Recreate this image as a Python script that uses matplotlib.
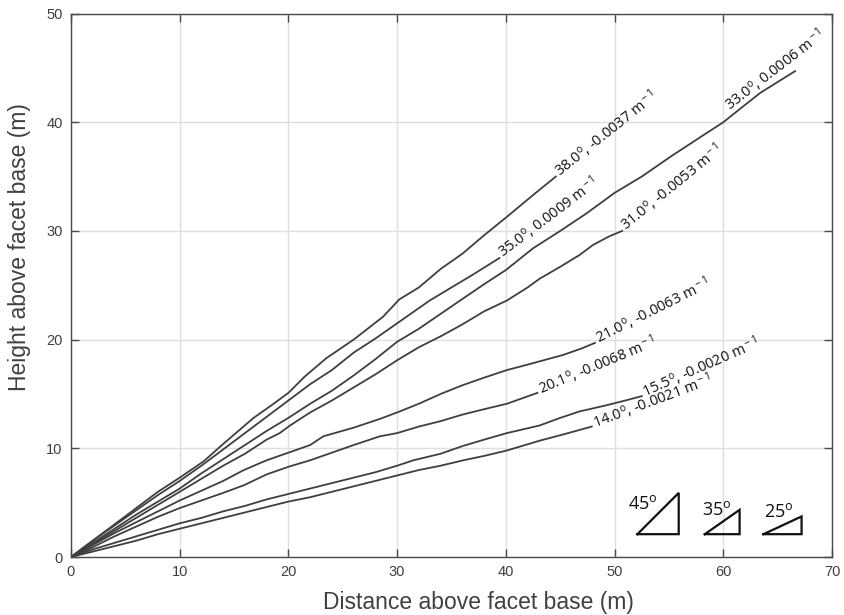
import numpy as np
import matplotlib
matplotlib.use("Agg")
from matplotlib import pyplot as plt

# profile data (distance above facet base, height above facet base)
x_38 = [0, 2, 4, 6, 8, 10, 12.2, 14, 16.8, 18.5, 20, 21.5, 23.5, 26, 28.7, 30.2, 32, 34, 36, 38, 40.1, 42.5, 44.6]
y_38 = [0, 1.5, 3.0, 4.5, 6.0, 7.3, 8.8, 10.4, 12.8, 14.0, 15.1, 16.6, 18.3, 20.0, 22.1, 23.7, 24.8, 26.5, 27.9, 29.6, 31.3, 33.3, 35.0]

x_35 = [0, 2, 4, 6, 8, 10, 12, 14, 16, 18, 20, 22, 24, 26, 28, 30, 33, 35, 37, 39.4]
y_35 = [0, 1.5, 2.9, 4.3, 5.7, 7.0, 8.4, 9.9, 11.4, 12.9, 14.4, 15.9, 17.2, 18.8, 20.1, 21.5, 23.6, 24.8, 26.0, 27.5]

x_33 = [0, 2, 4, 6, 8, 10, 12, 14, 16, 18, 20, 22, 24, 26, 28, 30, 32, 35.8, 38, 40, 42.5, 45,
        47.4, 50, 52.5, 55.1, 58, 60, 61.5, 63.4, 65, 66.6]
y_33 = [0, 1.3, 2.6, 3.9, 5.1, 6.3, 7.7, 9.0, 10.3, 11.6, 12.8, 14.1, 15.3, 16.7, 18.2, 19.8, 21.0, 23.6, 25.1, 26.4, 28.4, 30.0,
        31.6, 33.5, 35.0, 36.8, 38.7, 40.0, 41.2, 42.7, 43.7, 44.7]

x_31 = [0, 2, 4, 6, 8, 10, 12, 14, 16, 18, 19.2, 20.15, 22, 24, 26, 28, 30, 32, 34, 36, 38, 40.1, 42,
        43.1, 45, 46.8, 48, 49.5, 50.7]
y_31 = [0, 1.2, 2.4, 3.6, 4.8, 6.0, 7.2, 8.4, 9.5, 10.8, 11.4, 12.1, 13.3, 14.4, 15.6, 16.8, 18.1, 19.3, 20.3, 21.4, 22.6, 23.6, 24.8,
        25.6, 26.7, 27.8, 28.7, 29.5, 30.0]

x_21 = [0, 2, 4, 6, 8, 10, 12, 14, 15.9, 18, 20, 22, 23.2, 26, 28.4, 30, 32, 34, 36, 38, 40.1, 42, 43.1, 45.3, 47, 48.2]
y_21 = [0, 1.1, 2.2, 3.2, 4.2, 5.2, 6.1, 7.0, 8.0, 8.9, 9.6, 10.3, 11.1, 11.9, 12.7, 13.3, 14.1, 15.0, 15.8, 16.5, 17.2, 17.7, 18.0, 18.6, 19.2, 19.7]

x_20 = [0, 2, 4, 6, 8, 10, 12, 14, 15.9, 18, 20, 22, 24, 26, 28.4, 30, 32, 34, 36, 38, 40.1, 42.9]
y_20 = [0, 0.9, 1.9, 2.8, 3.7, 4.5, 5.2, 5.9, 6.6, 7.6, 8.3, 8.9, 9.6, 10.3, 11.1, 11.4, 12.0, 12.5, 13.1, 13.6, 14.1, 15.1]

x_15 = [0, 2, 4, 6, 8, 10, 12, 14, 16, 18, 20, 22, 24, 26, 28, 30, 31.5, 34, 36, 38, 40.1, 43.1, 45, 46.8, 49, 51, 52.5]
y_15 = [0, 0.7, 1.3, 1.9, 2.5, 3.1, 3.6, 4.2, 4.7, 5.3, 5.8, 6.3, 6.8, 7.3, 7.8, 8.4, 8.9, 9.5, 10.2, 10.8, 11.4, 12.1, 12.8, 13.4, 13.9, 14.4, 14.8]

x_14 = [0, 2, 4, 6, 8, 10, 12, 14, 16, 18, 20, 22, 24, 26, 28, 30, 32, 34, 36.1, 38, 40.1, 43.1, 45, 47.9]
y_14 = [0, 0.5, 1.0, 1.5, 2.1, 2.6, 3.1, 3.6, 4.1, 4.6, 5.1, 5.5, 6.0, 6.5, 7.0, 7.5, 8.0, 8.4, 8.9, 9.3, 9.8, 10.7, 11.2, 12.0]

profiles = [(x_38, y_38), (x_35, y_35), (x_33, y_33), (x_31, y_31),
            (x_21, y_21), (x_20, y_20), (x_15, y_15), (x_14, y_14)]
labels = [r"38.0$^{\rm o}$, -0.0037 m$^{\rm -1}$",
          r"35.0$^{\rm o}$, 0.0009 m$^{\rm -1}$",
          r"33.0$^{\rm o}$, 0.0006 m$^{\rm -1}$",
          r"31.0$^{\rm o}$, -0.0053 m$^{\rm -1}$",
          r"21.0$^{\rm o}$, -0.0063 m$^{\rm -1}$",
          r"20.1$^{\rm o}$, -0.0068 m$^{\rm -1}$",
          r"15.5$^{\rm o}$, -0.0020 m$^{\rm -1}$",
          r"14.0$^{\rm o}$, -0.0021 m$^{\rm -1}$"]
label_rot = [38.5, 37, 37.5, 39, 26.5, 22.5, 23.5, 20.5]
# most labels sit at the end of their profile; the 33.0 one rides above the line
label_at = [None, None, (60.6, 41.0), None, None, None, None, None]

# reference slope triangles
tri_angles = [45, 35, 25]
tri_x0 = [52.1, 58.3, 63.7]
tri_width = [3.8, 3.2, 3.5]
tri_y0 = 2.1
tri_lab_x = [52.6, 59.4, 65.1]
tri_lab_y = [4.85, 4.3, 4.1]

plt.rcParams['mathtext.fontset'] = 'custom'
plt.rcParams['mathtext.rm'] = 'Open Sans'
plt.rcParams['mathtext.it'] = 'Open Sans:italic'
plt.rcParams['font.family'] = ['Liberation Sans', 'DejaVu Sans']

line_col = '#3f3f3f'
axis_col = '#4a4a4a'

fig = plt.figure(figsize=(8.44, 6.15), dpi=100)
ax = fig.add_axes([0.0841, 0.0943, 0.9017, 0.8837])

for (xs, ys), lab, rot, at in zip(profiles, labels, label_rot, label_at):
    ax.plot(xs, ys, '-', color=line_col, linewidth=1.3)
    if at is None:
        r = np.deg2rad(rot)
        along, perp = 2.0, -1.8
        dx = along*np.cos(r) - perp*np.sin(r)
        dy = along*np.sin(r) + perp*np.cos(r)
        xy = (xs[-1], ys[-1])
    else:
        dx, dy = 0, 0
        xy = at
    ax.annotate(lab, xy=xy, xytext=(dx, dy), textcoords='offset points',
                rotation=rot, rotation_mode='anchor', ha='left', va='baseline',
                fontsize=10.5, family='Open Sans', color='#111111')

for ang, x0, w, lx, ly in zip(tri_angles, tri_x0, tri_width, tri_lab_x, tri_lab_y):
    h = w*np.tan(np.deg2rad(ang))
    ax.plot([x0, x0 + w, x0 + w, x0], [tri_y0, tri_y0, tri_y0 + h, tri_y0],
            '-', color='#111111', linewidth=1.6, solid_joinstyle='miter')
    ax.text(lx, ly, '%d$^{\\rm o}$' % ang, ha='center', va='center',
            fontsize=13, family='Open Sans', color='#111111')

ax.set_xlim(0, 70)
ax.set_ylim(0, 50)
ax.set_xticks(np.arange(0, 71, 10))
ax.set_yticks(np.arange(0, 51, 10))
ax.grid(True, color='#dedede', linewidth=1.0)
ax.set_axisbelow(True)
ax.tick_params(axis='both', which='major', direction='in', length=6, width=1,
               color=axis_col, labelcolor='#404040', labelsize=10.5,
               top=True, right=True, pad=6)
for sp in ax.spines.values():
    sp.set_color(axis_col)
    sp.set_linewidth(1.0)

ax.set_xlabel('Distance above facet base (m)', fontsize=16.5, color='#404040')
ax.set_ylabel('Height above facet base (m)', fontsize=16.5, color='#404040')
ax.xaxis.set_label_coords(0.535, -0.062)
ax.yaxis.set_label_coords(-0.052, 0.57)

fig.savefig('out.png', dpi=100)
